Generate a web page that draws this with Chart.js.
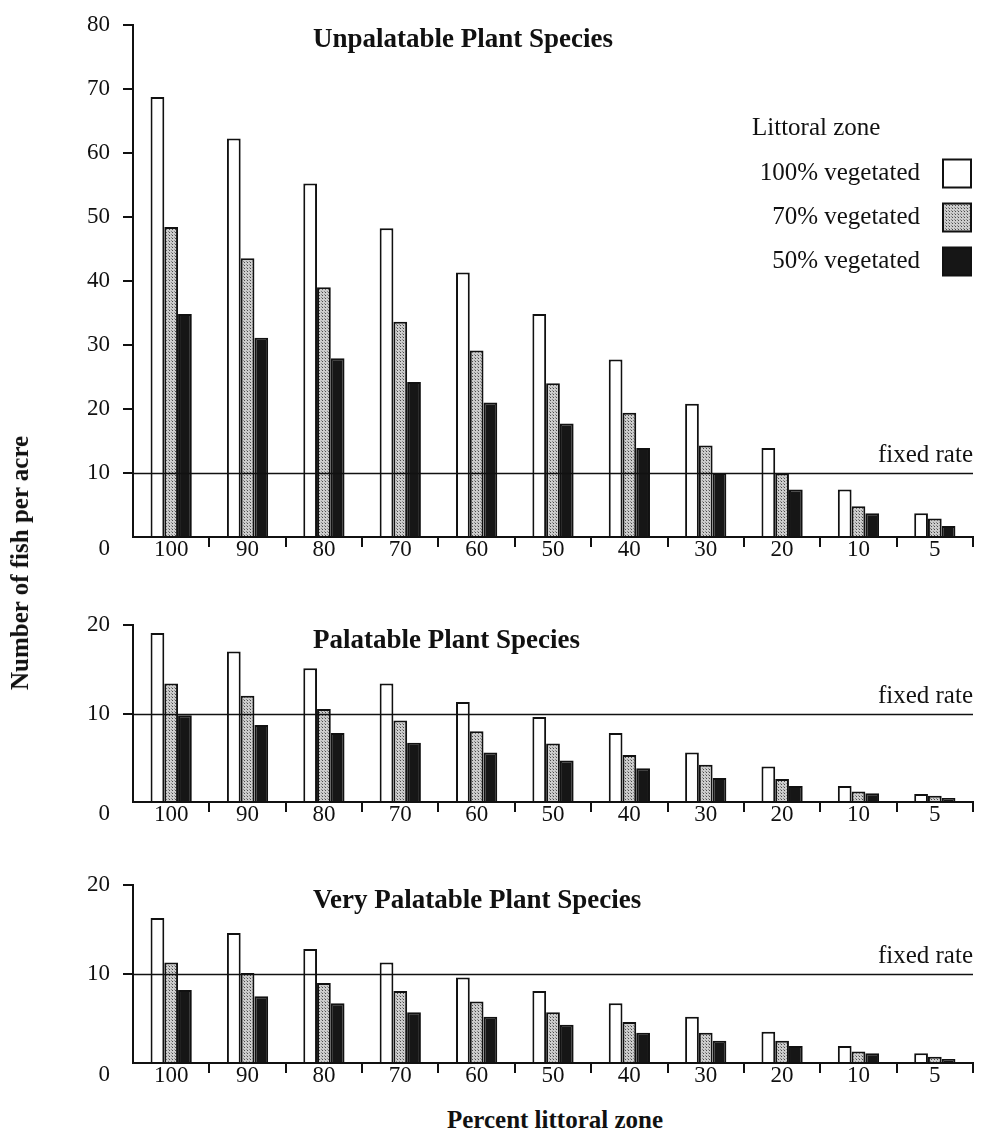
<!DOCTYPE html>
<html><head><meta charset="utf-8">
<script src="https://cdn.jsdelivr.net/npm/chart.js@4.4.0/dist/chart.umd.min.js"></script>
<style>
html,body{margin:0;padding:0;background:#fff;}
#wrap{position:relative;width:985px;height:1140px;overflow:hidden;font-family:'Liberation Serif',serif;color:#111;}
canvas{position:absolute;left:0;}
#ytitle{position:absolute;left:20px;top:563px;transform:translate(-50%,-50%) rotate(-90deg);white-space:nowrap;font-weight:bold;font-size:25px;}
#xtitle{position:absolute;left:555px;top:1120px;transform:translate(-50%,-50%);white-space:nowrap;font-weight:bold;font-size:25px;}
</style></head><body>
<div id="wrap">
<canvas id="c1" width="985" height="580" style="top:0px"></canvas>
<canvas id="c2" width="985" height="240" style="top:600px"></canvas>
<canvas id="c3" width="985" height="240" style="top:860px"></canvas>
<div id="ytitle">Number of fish per acre</div>
<div id="xtitle">Percent littoral zone</div>
</div>
<script>
const categories = ['100','90','80','70','60','50','40','30','20','10','5'];
const seriesLabels = ['100% vegetated','70% vegetated','50% vegetated'];
const legendTitle = 'Littoral zone';
const fixedRate = 10;
const fixedRateLabel = 'fixed rate';
const panelTitles = ['Unpalatable Plant Species','Palatable Plant Species','Very Palatable Plant Species'];

const unpalatable100 = [68.7,62.2,55.2,48.2,41.3,34.8,27.7,20.8,13.9,7.4,3.7];
const unpalatable70  = [48.4,43.5,39.0,33.6,29.1,24.0,19.4,14.3,9.9,4.8,2.9];
const unpalatable50  = [34.8,31.1,27.9,24.2,21.0,17.7,13.9,10.0,7.4,3.7,1.7];

const palatable100 = [19.1,17.0,15.1,13.4,11.3,9.6,7.8,5.6,4.0,1.8,0.9];
const palatable70  = [13.4,12.0,10.5,9.2,8.0,6.6,5.3,4.2,2.6,1.2,0.7];
const palatable50  = [9.8,8.7,7.8,6.7,5.6,4.7,3.8,2.7,1.8,1.0,0.45];

const veryPalatable100 = [16.3,14.6,12.8,11.3,9.6,8.1,6.7,5.2,3.5,1.9,1.1];
const veryPalatable70  = [11.3,10.1,9.0,8.1,6.9,5.7,4.6,3.4,2.5,1.3,0.7];
const veryPalatable50  = [8.2,7.5,6.7,5.7,5.2,4.3,3.4,2.5,1.9,1.1,0.45];

const yMaxTop = 80, yStepTop = 10;
const yMaxLow = 20, yStepLow = 5;

Chart.defaults.font.family = "'Liberation Serif', serif";
Chart.defaults.color = '#111';

function stipple(){
  const c = document.createElement('canvas'); c.width = 3; c.height = 3;
  const g = c.getContext('2d');
  g.fillStyle = '#cccccc'; g.fillRect(0,0,3,3);
  g.fillStyle = '#4a4a4a'; g.fillRect(1,1,1,1);
  g.fillStyle = '#8a8a8a'; g.fillRect(0,0,1,1);
  return g.createPattern(c, 'repeat');
}
const fills = ['#ffffff', stipple(), '#161616'];

const decor = {
  id: 'decor',
  afterDatasetsDraw(chart, args, opts){
    const {ctx, chartArea: a} = chart;
    const y = chart.scales.y;
    const yy = Math.round(y.getPixelForValue(fixedRate)) + 0.5;
    ctx.save();
    ctx.strokeStyle = '#111'; ctx.lineWidth = 1.6;
    ctx.beginPath(); ctx.moveTo(a.left, yy); ctx.lineTo(a.right, yy); ctx.stroke();
    ctx.fillStyle = '#111';
    ctx.font = "25px 'Liberation Serif'";
    ctx.textAlign = 'right'; ctx.textBaseline = 'alphabetic';
    ctx.fillText(fixedRateLabel, a.right, yy - 12);
    ctx.font = "bold 27px 'Liberation Serif'";
    ctx.textAlign = 'left'; ctx.textBaseline = 'middle';
    ctx.fillText(opts.title, a.left + 180, a.top + 16);
    if (opts.legend) {
      ctx.font = "25px 'Liberation Serif'";
      ctx.textAlign = 'left';
      ctx.fillText(legendTitle, a.right - 221, a.top + 104);
      chart.data.datasets.forEach((ds, i) => {
        const cy = a.top + 149 + i * 44;
        ctx.textAlign = 'right';
        ctx.fillStyle = '#111';
        ctx.fillText(ds.label, a.right - 53, cy);
        ctx.fillStyle = ds.backgroundColor;
        ctx.fillRect(a.right - 30, cy - 14, 28, 28);
        ctx.strokeStyle = '#111'; ctx.lineWidth = 2;
        ctx.strokeRect(a.right - 30, cy - 14, 28, 28);
      });
    }
    ctx.restore();
  }
};

function makeChart(id, series, yMax, yStep, topPad, canvasH, baseline, title, legend){
  return new Chart(document.getElementById(id), {
    type: 'bar',
    data: {
      labels: categories,
      datasets: series.map((d, i) => ({
        label: seriesLabels[i], data: d,
        backgroundColor: fills[i], borderColor: '#111', borderWidth: 2,
        categoryPercentage: 0.54, barPercentage: 1.0
      }))
    },
    options: {
      responsive: false, animation: false,
      layout: {padding: {left: 0, right: 12, top: topPad, bottom: 0}},
      plugins: {legend: {display: false}, tooltip: {enabled: false}, decor: {title, legend}},
      scales: {
        x: {
          ticks: {padding: -11, font: {size: 23}, color: '#111', maxRotation: 0, autoSkip: false},
          grid: {offset: true, drawOnChartArea: false, tickLength: 10, lineWidth: 2,
                 color: c => c.index === 0 ? 'rgba(0,0,0,0)' : '#111'},
          border: {display: true, color: '#111', width: 2},
          afterFit: s => { s.height = canvasH - baseline; }
        },
        y: {
          min: 0, max: yMax,
          ticks: {stepSize: yStep, padding: 13, font: {size: 23, lineHeight: 1.0}, color: '#111',
                  callback: v => v === 0 ? ['', '0'] : (v % 10 === 0 ? String(v) : '')},
          grid: {drawOnChartArea: false, tickLength: 10, lineWidth: 2,
                 color: c => (c.tick && c.tick.value === 0) ? 'rgba(0,0,0,0)' : '#111'},
          border: {display: true, color: '#111', width: 2},
          afterFit: s => { s.width = 133; }
        }
      }
    },
    plugins: [decor]
  });
}

makeChart('c1', [unpalatable100, unpalatable70, unpalatable50], yMaxTop, yStepTop, 18, 580, 537, panelTitles[0], true);
makeChart('c2', [palatable100, palatable70, palatable50], yMaxLow, yStepLow, 25, 240, 202, panelTitles[1], false);
makeChart('c3', [veryPalatable100, veryPalatable70, veryPalatable50], yMaxLow, yStepLow, 25, 240, 203, panelTitles[2], false);
</script>
</body></html>
